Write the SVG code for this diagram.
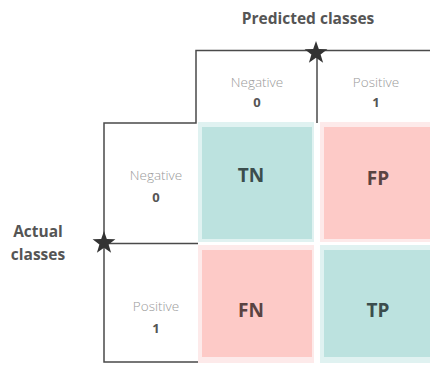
<svg xmlns="http://www.w3.org/2000/svg" width="430" height="365" viewBox="0 0 430 365">
<defs>
<style>
.frame{fill:none;stroke:#4a4a4a;stroke-width:1.5}
.lbl{font-family:"Open Sans","Liberation Sans",sans-serif;font-size:13.5px;font-weight:300;fill:#9a9a9a;text-anchor:middle}
.num{font-family:"Open Sans","Liberation Sans",sans-serif;font-size:13px;font-weight:bold;fill:#555;text-anchor:middle}
.title{font-family:"Open Sans","Liberation Sans",sans-serif;font-size:15.5px;font-weight:bold;fill:#555;text-anchor:middle}
.cell{font-family:"Open Sans","Liberation Sans",sans-serif;font-size:19px;font-weight:bold;text-anchor:middle}
.tcol{fill:#3b4d4d}.pcol{fill:#5a4342}
.tealO{fill:#e0f2f1}.teal{fill:#bce2df}
.pinkO{fill:#fdeaea}.pink{fill:#fdcac7}
.star{fill:#333}
</style>
<polygon id="starShape" points="0,-12 2.8,-3.9 11.4,-3.7 4.6,1.5 7.1,9.7 0,4.8 -7.1,9.7 -4.6,1.5 -11.4,-3.7 -2.8,-3.9"/>
</defs>
<rect width="430" height="365" fill="#fff"/>
<text class="title" x="308" y="24">Predicted classes</text>
<text class="title" x="38" y="237">Actual</text>
<text class="title" x="38" y="260">classes</text>
<g id="frame">
<path class="frame" d="M430,50.5 H196 V123 H104 V362 H200"/>
<path class="frame" d="M317,50.5 V123"/>
<path class="frame" d="M104,243.5 H198"/>
</g>
<g id="pred-neg"><text class="lbl" x="257" y="87">Negative</text><text class="num" x="257" y="107">0</text></g>
<g id="pred-pos"><text class="lbl" x="376" y="87">Positive</text><text class="num" x="376" y="107">1</text></g>
<g id="act-neg"><text class="lbl" x="156" y="180">Negative</text><text class="num" x="156" y="202">0</text></g>
<g id="act-pos"><text class="lbl" x="156" y="311">Positive</text><text class="num" x="156" y="333">1</text></g>
<g id="TN"><rect class="tealO" x="198" y="122" width="116" height="120"/><rect class="teal" x="202" y="127" width="110" height="112"/><text class="cell tcol" x="251" y="182">TN</text></g>
<g id="FP"><rect class="pinkO" x="320" y="122" width="110" height="120"/><rect class="pink" x="324" y="127" width="106" height="112"/><text class="cell pcol" x="378" y="185">FP</text></g>
<g id="FN"><rect class="pinkO" x="198" y="245" width="116" height="118"/><rect class="pink" x="202" y="250" width="110" height="107"/><text class="cell pcol" x="251" y="317">FN</text></g>
<g id="TP"><rect class="tealO" x="320" y="245" width="110" height="118"/><rect class="teal" x="324" y="250" width="106" height="107"/><text class="cell tcol" x="378" y="317">TP</text></g>
<g id="stars">
<use href="#starShape" class="star" x="316" y="53"/>
<use href="#starShape" class="star" x="104" y="243"/>
</g>
</svg>
